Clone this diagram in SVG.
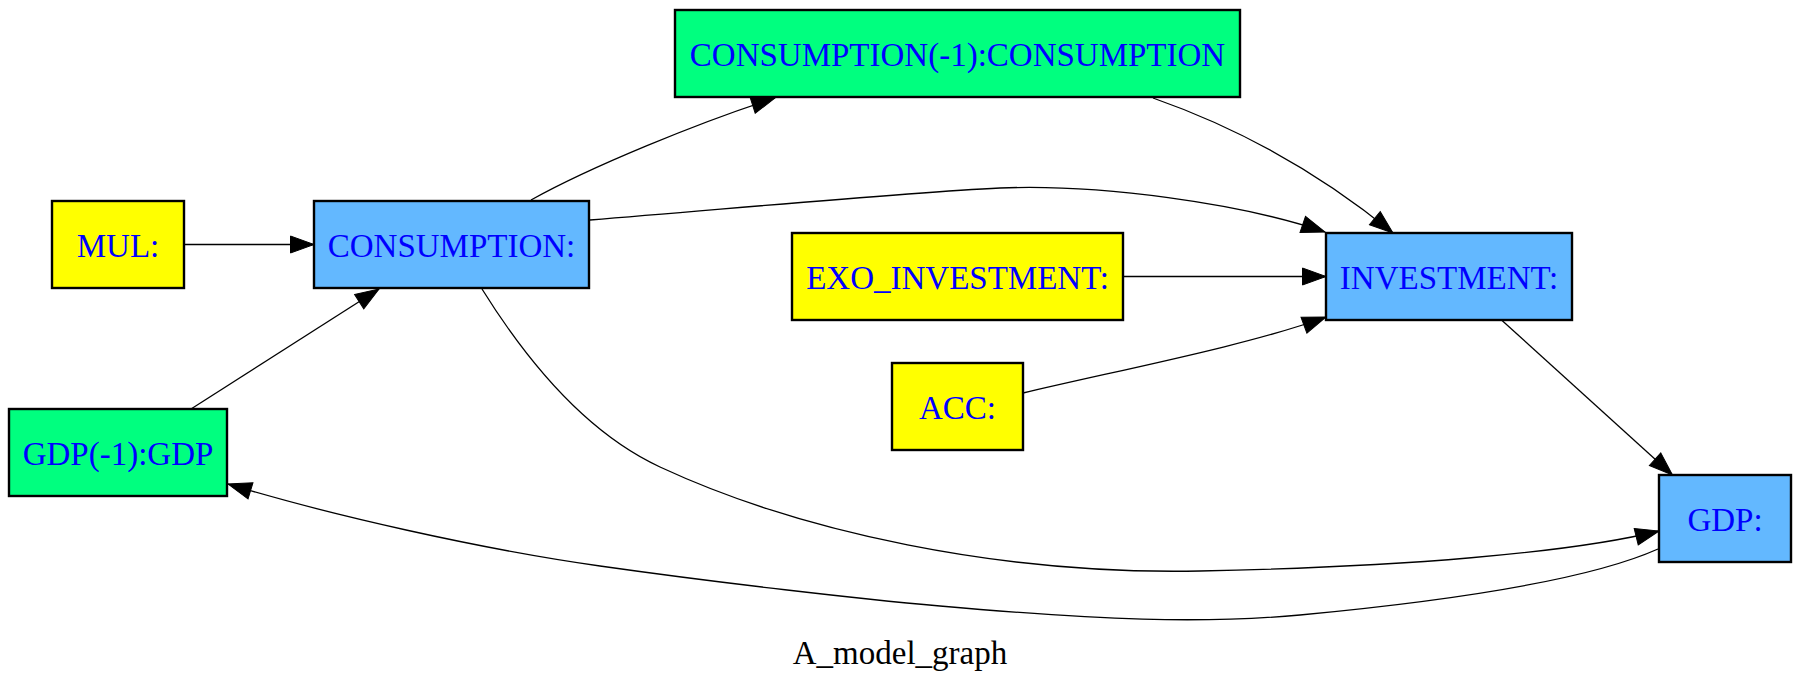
<svg xmlns="http://www.w3.org/2000/svg" width="1800" height="691" viewBox="0 0 1800 691">
  <style>
    .node rect { stroke: #000000; stroke-width: 2.4; }
    .exo rect { fill: #ffff00; }
    .endo rect { fill: #63b8ff; }
    .lag rect { fill: #00ff7f; }
    .node text { font-family: "Liberation Serif", "Times New Roman", serif; font-size: 33px; fill: #0000ff; text-anchor: middle; }
    .edges path { fill: none; stroke: #000000; stroke-width: 1.3; marker-end: url(#arrow); }
    .title { font-family: "Liberation Serif", "Times New Roman", serif; font-size: 33px; fill: #000000; text-anchor: middle; }
  </style>
  <defs>
    <marker id="arrow" markerUnits="userSpaceOnUse" viewBox="0 0 26 19" markerWidth="26" markerHeight="19" refX="24.5" refY="9.5" orient="auto">
      <path d="M1,1 L24.5,9.5 L1,18 Z" fill="#000000" stroke="#000000" stroke-width="1"/>
    </marker>
  </defs>
  <rect width="1800" height="691" fill="#ffffff"/>

  <!-- connectors -->
  <g id="edges" class="edges">
    <path id="e-mul-cons" d="M184,244.5 L314,244.5"/>
    <path id="e-gdplag-cons" d="M191,409 L379,289"/>
    <path id="e-cons-conslag" d="M531,200 C590,167 700,122 775,98"/>
    <path id="e-conslag-inv" d="M1153,98 C1230,125 1310,165 1393,233"/>
    <path id="e-cons-inv" d="M590,220 C750,207 900,193 1000,188 C1100,184 1240,203 1325,232"/>
    <path id="e-exo-inv" d="M1123,276.5 L1326,276.5"/>
    <path id="e-acc-inv" d="M1023,393 C1120,370 1250,345 1326,317"/>
    <path id="e-inv-gdp" d="M1501.5,320 L1672.5,475"/>
    <path id="e-cons-gdp" d="M482,289 C520,350 580,430 660,467 C800,532 1000,575 1200,571 C1400,567 1570,553 1659,531"/>
    <path id="e-gdp-gdplag" d="M1658,549 C1600,575 1480,598 1300,615 C1200,624 1100,620 940,606 C860,599 720,583 600,566 C480,549 330,515 228,484"/>
  </g>

  <!-- nodes -->
  <g id="node-consumption-lag" class="node lag">
    <rect x="675" y="10" width="565" height="87"/>
    <text x="957.5" y="65.5">CONSUMPTION(-1):CONSUMPTION</text>
  </g>
  <g id="node-mul" class="node exo">
    <rect x="52" y="201" width="132" height="87"/>
    <text x="118" y="256.5">MUL:</text>
  </g>
  <g id="node-consumption" class="node endo">
    <rect x="314" y="201" width="275" height="87"/>
    <text x="451.5" y="256.5">CONSUMPTION:</text>
  </g>
  <g id="node-exo-investment" class="node exo">
    <rect x="792" y="233" width="331" height="87"/>
    <text x="957.5" y="288.5">EXO_INVESTMENT:</text>
  </g>
  <g id="node-investment" class="node endo">
    <rect x="1326" y="233" width="246" height="87"/>
    <text x="1449" y="288.5">INVESTMENT:</text>
  </g>
  <g id="node-acc" class="node exo">
    <rect x="892" y="363" width="131" height="87"/>
    <text x="957.5" y="418.5">ACC:</text>
  </g>
  <g id="node-gdp-lag" class="node lag">
    <rect x="9" y="409" width="218" height="87"/>
    <text x="118" y="464.5">GDP(-1):GDP</text>
  </g>
  <g id="node-gdp" class="node endo">
    <rect x="1659" y="475" width="132" height="87"/>
    <text x="1725" y="530.5">GDP:</text>
  </g>

  <text class="title" x="900" y="664">A_model_graph</text>
</svg>
